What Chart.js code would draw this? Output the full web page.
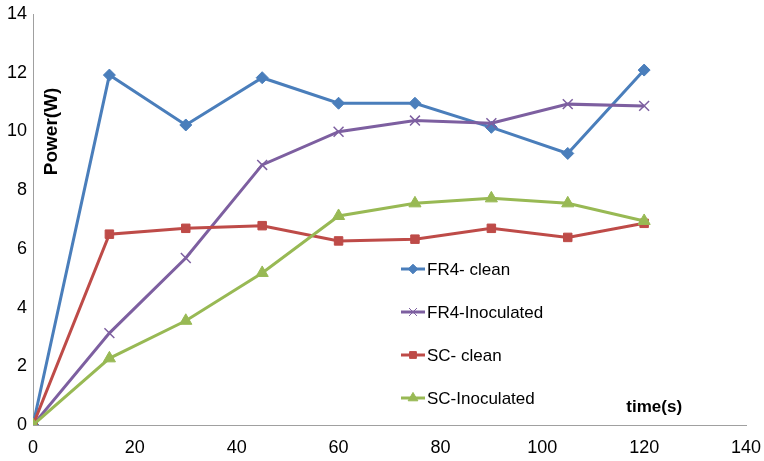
<!DOCTYPE html>
<html>
<head>
<meta charset="utf-8">
<script src="https://cdn.jsdelivr.net/npm/chart.js@4"></script>
<style>
  html, body { margin: 0; padding: 0; background: #fff; }
  #wrap { width: 764px; height: 461px; }
</style>
</head>
<body>
<div id="wrap"><canvas id="powerChart"></canvas></div>
<script>
// --- data ---
const timeS = [0, 15, 30, 45, 60, 75, 90, 105, 120];
const fr4Clean = [0, 11.92, 10.22, 11.83, 10.96, 10.96, 10.14, 9.25, 12.09];
const fr4Inoculated = [0, 3.13, 5.69, 8.86, 9.99, 10.37, 10.28, 10.93, 10.87];
const scClean = [0, 6.5, 6.7, 6.79, 6.27, 6.33, 6.7, 6.39, 6.87];
const scInoculated = [0, 2.27, 3.55, 5.18, 7.12, 7.55, 7.72, 7.55, 6.95];
const seriesNames = ['FR4- clean', 'FR4-Inoculated', 'SC- clean', 'SC-Inoculated'];
const yTitle = 'Power(W)';
const xTitle = 'time(s)';

const FONT = '"Liberation Sans Narrow", "Liberation Sans", Arial, sans-serif';

function pts(vals) {
    return vals.map((v, i) => ({ x: timeS[i], y: v }));
}

// legend + axis titles placed inside the plot like the original
const overlay = {
    id: 'overlay',
    afterDraw(chart) {
        const { ctx, chartArea, scales } = chart;
        ctx.save();
        // y title, rotated, inside plot
        ctx.font = 'bold 19px "Liberation Sans", Arial, sans-serif';
        ctx.fillStyle = '#000';
        ctx.textAlign = 'center';
        ctx.textBaseline = 'middle';
        ctx.translate(chartArea.left + 19, scales.y.getPixelForValue(10.0));
        ctx.rotate(-Math.PI / 2);
        ctx.fillText(yTitle, 0, 0);
        ctx.restore();

        ctx.save();
        ctx.font = 'bold 17px ' + FONT;
        ctx.fillStyle = '#000';
        ctx.textBaseline = 'middle';
        ctx.fillText(xTitle, scales.x.getPixelForValue(116.5), scales.y.getPixelForValue(0.6));

        // legend
        const lx = 401, ly0 = 269, gap = 43;
        chart.data.datasets.forEach((ds, i) => {
            const y = ly0 + i * gap;
            ctx.strokeStyle = ds.borderColor;
            ctx.lineWidth = 3;
            ctx.beginPath();
            ctx.moveTo(lx, y);
            ctx.lineTo(lx + 24, y);
            ctx.stroke();
            ctx.fillStyle = ds.borderColor;
            ctx.strokeStyle = ds.borderColor;
            ctx.lineWidth = 1;
            Chart.helpers.drawPoint(ctx, {
                pointStyle: ds.pointStyle,
                radius: ds.pointRadius * 0.8,
                rotation: 0,
                borderWidth: 1
            }, lx + 12, y);
            ctx.fillStyle = '#000';
            ctx.font = '17px ' + FONT;
            ctx.fillText(ds.label, lx + 26, y + 1);
        });
        ctx.restore();
    }
};

function mkSet(label, vals, color, style, radius, order) {
    return {
        label: label,
        data: pts(vals),
        borderColor: color,
        backgroundColor: color,
        pointBackgroundColor: color,
        pointBorderColor: color,
        pointStyle: style,
        pointRadius: radius,
        pointBorderWidth: style === 'crossRot' ? 1.5 : 1,
        borderWidth: 3,
        tension: 0,
        order: order
    };
}

new Chart(document.getElementById('powerChart'), {
    type: 'line',
    data: {
        datasets: [
            mkSet(seriesNames[0], fr4Clean, '#4a7ebb', 'rectRot', 6, 3),
            mkSet(seriesNames[1], fr4Inoculated, '#7d5fa0', 'crossRot', 7, 2),
            mkSet(seriesNames[2], scClean, '#be4b48', 'rect', 6, 1),
            mkSet(seriesNames[3], scInoculated, '#98b954', 'triangle', 7, 0)
        ]
    },
    options: {
        responsive: true,
        maintainAspectRatio: false,
        animation: false,
        layout: { padding: { top: 14, right: 18, left: 0, bottom: 0 } },
        plugins: {
            legend: { display: false },
            tooltip: { enabled: false }
        },
        scales: {
            x: {
                type: 'linear',
                min: 0, max: 140,
                ticks: { stepSize: 20, color: '#000', font: { family: FONT, size: 18 }, padding: 12 },
                grid: { display: false, drawTicks: false },
                border: { color: '#a0a0a0', width: 1 },
                afterFit(s) { s.height = 36; s.paddingRight = 0; s.paddingLeft = 0; }
            },
            y: {
                min: 0, max: 14,
                ticks: { stepSize: 2, color: '#000', font: { family: FONT, size: 18 }, padding: 6 },
                grid: { display: false, drawTicks: false },
                border: { color: '#a0a0a0', width: 1 },
                afterFit(s) { s.width = 33; s.paddingTop = 0; s.paddingBottom = 0; }
            }
        }
    },
    plugins: [overlay]
});
</script>
</body>
</html>
